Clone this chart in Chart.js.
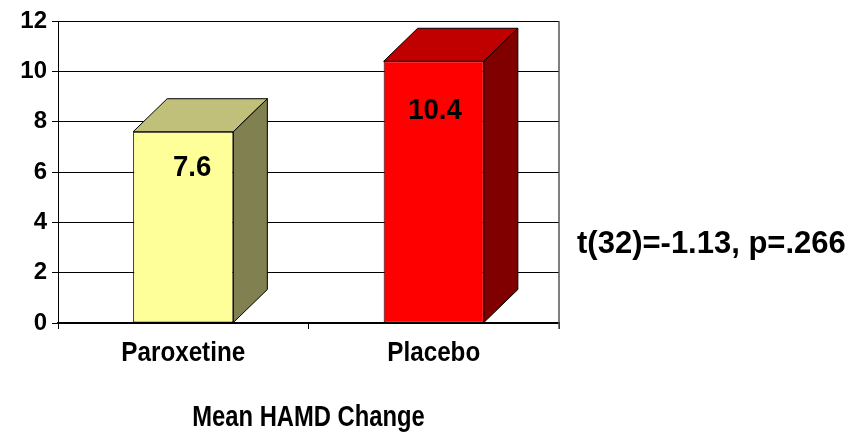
<!DOCTYPE html>
<html>
<head>
<meta charset="utf-8">
<script src="https://cdn.jsdelivr.net/npm/chart.js@4/dist/chart.umd.min.js"></script>
<style>
  html, body { margin: 0; padding: 0; background: #fff; }
  #wrap { width: 865px; height: 437px; }
</style>
</head>
<body>
<div id="wrap"><canvas id="c" width="865" height="437"></canvas></div>
<script>
// Mean change in HAMD score per treatment group
const categories = ['Paroxetine', 'Placebo'];
const meanChange = [7.6, 10.4];
const yTicks = [0, 2, 4, 6, 8, 10, 12];
const axisTitle = 'Mean HAMD Change';
const statText = 't(32)=-1.13, p=.266';

// Face colours: front, top, side
const frontColors = ['#FFFF99', '#FF0000'];
const topColors = ['#C0C07A', '#C00000'];
const sideColors = ['#808050', '#800000'];

const ARIAL = "'Liberation Sans', Arial, sans-serif";

const DEPTH_X = 34, DEPTH_Y = 33;

// Bold text squeezed horizontally, like a condensed face
function condensedText(ctx, text, x, y, size, squeeze, align) {
  ctx.save();
  ctx.font = 'bold ' + size + 'px ' + ARIAL;
  ctx.textAlign = align || 'center';
  ctx.textBaseline = 'middle';
  ctx.translate(x, y);
  ctx.scale(squeeze, 1);
  ctx.fillText(text, 0, 0);
  ctx.restore();
}

// Draws the top and right faces so each bar reads as a box
const boxFaces = {
  id: 'boxFaces',
  afterDatasetsDraw(chart) {
    const ctx = chart.ctx;
    const meta = chart.getDatasetMeta(0);
    ctx.save();
    ctx.lineWidth = 1;
    ctx.strokeStyle = '#000';
    meta.data.forEach((bar, i) => {
      const p = bar.getProps(['x', 'y', 'base', 'width'], true);
      const l = p.x - p.width / 2, r = p.x + p.width / 2;
      // top face
      ctx.beginPath();
      ctx.moveTo(l, p.y);
      ctx.lineTo(l + DEPTH_X, p.y - DEPTH_Y);
      ctx.lineTo(r + DEPTH_X, p.y - DEPTH_Y);
      ctx.lineTo(r, p.y);
      ctx.closePath();
      ctx.fillStyle = topColors[i];
      ctx.fill();
      ctx.stroke();
      // side face
      ctx.beginPath();
      ctx.moveTo(r, p.y);
      ctx.lineTo(r + DEPTH_X, p.y - DEPTH_Y);
      ctx.lineTo(r + DEPTH_X, p.base - DEPTH_Y);
      ctx.lineTo(r, p.base);
      ctx.closePath();
      ctx.fillStyle = sideColors[i];
      ctx.fill();
      ctx.stroke();
    });
    ctx.restore();
  }
};

// Category names, axis title, value labels, right frame line and test statistic
const annotations = {
  id: 'annotations',
  afterDraw(chart) {
    const ctx = chart.ctx;
    const area = chart.chartArea;
    const xScale = chart.scales.x;
    const yScale = chart.scales.y;
    const meta = chart.getDatasetMeta(0);
    ctx.save();

    // right edge of the plot frame
    ctx.strokeStyle = '#555';
    ctx.lineWidth = 1.5;
    ctx.beginPath();
    ctx.moveTo(area.right, area.top);
    ctx.lineTo(area.right, area.bottom + 6);
    ctx.stroke();

    ctx.fillStyle = '#000';

    // category names under the axis
    categories.forEach((name, i) => {
      condensedText(ctx, name, xScale.getPixelForTick(i), area.bottom + 30, 28, 0.865);
    });

    // axis title
    condensedText(ctx, axisTitle, (area.left + area.right) / 2, area.bottom + 95, 29, 0.82);

    // values inside the bars
    meta.data.forEach((bar, i) => {
      const v = meanChange[i];
      const p = bar.getProps(['x', 'width'], true);
      condensedText(ctx, v.toFixed(1), p.x + p.width / 2 - 22, yScale.getPixelForValue(v * 0.81), 30, 0.92, 'right');
    });

    condensedText(ctx, statText, 577, 244, 31, 1, 'left');
    ctx.restore();
  }
};

new Chart(document.getElementById('c'), {
  type: 'bar',
  data: {
    labels: categories,
    datasets: [{
      data: meanChange,
      backgroundColor: frontColors,
      borderColor: '#000',
      borderWidth: 1,
      borderSkipped: false,
      categoryPercentage: 1,
      barPercentage: 0.4
    }]
  },
  options: {
    responsive: false,
    animation: false,
    events: [],
    layout: { padding: { left: 0, top: 21, right: 306, bottom: 0 } },
    plugins: {
      legend: { display: false },
      tooltip: { enabled: false },
      title: { display: false }
    },
    scales: {
      x: {
        afterFit(scale) { scale.height = 114; },
        grid: {
          offset: true,
          drawOnChartArea: false,
          drawTicks: true,
          tickLength: 6,
          color: '#000',
          lineWidth: 1
        },
        border: { display: true, color: '#000', width: 2 },
        ticks: { display: false }
      },
      y: {
        min: 0,
        max: 12,
        afterFit(scale) { scale.width = 58; },
        afterBuildTicks(scale) { scale.ticks = yTicks.map(v => ({ value: v })); },
        grid: {
          color: '#000',
          lineWidth: 1,
          tickLength: 6,
          drawTicks: true
        },
        border: { display: true, color: '#000', width: 1 },
        ticks: {
          color: '#000',
          padding: 5,
          font: { family: ARIAL, size: 24, weight: 'bold' }
        }
      }
    }
  },
  plugins: [boxFaces, annotations]
});
</script>
</body>
</html>
